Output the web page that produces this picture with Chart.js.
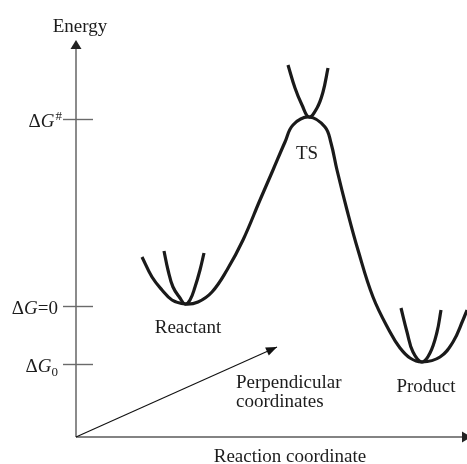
<!DOCTYPE html>
<html><head><meta charset="utf-8">
<script src="https://cdn.jsdelivr.net/npm/chart.js@4"></script>
<style>html,body{margin:0;padding:0;background:#fff}#wrap{width:467px;height:464px}</style>
</head><body><div id="wrap"><canvas id="c" width="467" height="464"></canvas></div>
<script>
// Energy profile (x: reaction coordinate, y: energy; ΔG=0 at y=0)
const mainCurve = [
  {x:66,y:49},{x:76,y:29},{x:86,y:16},{x:96,y:6},{x:109,y:2},
  {x:122,y:4},{x:136,y:14},{x:151,y:36},{x:167,y:66},{x:184,y:106},
  {x:197,y:136},{x:209,y:164},{x:217,y:181},{x:233,y:189},{x:249,y:179},
  {x:255,y:163},{x:261,y:136},{x:271,y:96},{x:282,y:56},{x:297,y:9},
  {x:314,y:-26},{x:324,y:-42},{x:334,y:-52},{x:346,y:-56},{x:364,y:-51},
  {x:377,y:-36},{x:387,y:-14},{x:391,y:-4}
];
const reactantWell = [
  {x:88,y:55},{x:92,y:36},{x:97,y:19},{x:104,y:8},{x:109,y:2},
  {x:114,y:6},{x:119,y:19},{x:124,y:36},{x:128,y:53}
];
const tsWell = [
  {x:212,y:241},{x:219,y:218},{x:226,y:201},{x:233,y:189},
  {x:241,y:198},{x:247,y:214},{x:252,y:238}
];
const productWell = [
  {x:325,y:-2},{x:331,y:-26},{x:337,y:-46},{x:346,y:-56},
  {x:354,y:-47},{x:361,y:-26},{x:365,y:-4}
];
const perpArrow = [{x:0,y:-131},{x:201,y:-41}];
const energyLevels = [187, 0, -58];
const energyLabels = [['Δ','G','#'], ['Δ','G','=0'], ['Δ','G','0']];
const yTitle = 'Energy';
const xTitle = 'Reaction coordinate';
const wellNames = ['TS','Reactant','Product'];
const perpNames = ['Perpendicular','coordinates'];

const FONT = '"Liberation Serif","Times New Roman",serif';
const INK = '#1c1c1c';

const overlay = {
  id:'overlay',
  beforeDatasetsDraw(chart){
    const ctx = chart.ctx, a = chart.chartArea;
    const xs = chart.scales.x, ys = chart.scales.y;
    const x0 = xs.getPixelForValue(0), yb = ys.getPixelForValue(-131);
    ctx.save();
    // axes
    ctx.strokeStyle = '#5a5a5a'; ctx.lineWidth = 1.4;
    ctx.beginPath(); ctx.moveTo(x0, yb); ctx.lineTo(x0, a.top + 6); ctx.stroke();
    ctx.beginPath(); ctx.moveTo(x0, yb); ctx.lineTo(a.right + 2, yb); ctx.stroke();
    ctx.fillStyle = '#222';
    ctx.beginPath(); ctx.moveTo(x0, a.top); ctx.lineTo(x0-5.5, a.top+9); ctx.lineTo(x0+5.5, a.top+9); ctx.closePath(); ctx.fill();
    ctx.beginPath(); ctx.moveTo(a.right+6, yb); ctx.lineTo(a.right-3, yb-5.5); ctx.lineTo(a.right-3, yb+5.5); ctx.closePath(); ctx.fill();
    // energy ticks
    ctx.strokeStyle = '#6a6a6a'; ctx.lineWidth = 1.4;
    energyLevels.forEach((v,i)=>{
      const py = Math.round(ys.getPixelForValue(v)) + 0.5;
      ctx.beginPath(); ctx.moveTo(x0-13, py); ctx.lineTo(x0+17, py); ctx.stroke();
      const parts = energyLabels[i];
      const big = '19px ' + FONT, ital = 'italic 19px ' + FONT;
      const smallSize = parts[2] === '=0' ? 19 : 13;
      const small = smallSize + 'px ' + FONT;
      ctx.font = big; const w0 = ctx.measureText(parts[0]).width;
      ctx.font = ital; const w1 = ctx.measureText(parts[1]).width;
      ctx.font = small; const w2 = ctx.measureText(parts[2]).width;
      const right = parts[2] === '#' ? x0 - 14 : x0 - 18;
      let x = right - w0 - w1 - w2 - (parts[2]==='#'?1:0);
      const base = py + 7;
      ctx.fillStyle = INK; ctx.textAlign = 'left'; ctx.textBaseline = 'alphabetic';
      ctx.font = big; ctx.fillText(parts[0], x, base); x += w0;
      ctx.font = ital; ctx.fillText(parts[1], x, base); x += w1 + (parts[2]==='#'?1:0);
      ctx.font = small;
      const off = parts[2]==='#' ? -7 : (parts[2]==='0' ? 4 : 0);
      ctx.fillText(parts[2], x, base + off);
    });
    ctx.restore();
  },
  afterDatasetsDraw(chart){
    const ctx = chart.ctx, a = chart.chartArea;
    const xs = chart.scales.x, ys = chart.scales.y;
    ctx.save();
    // perpendicular arrow head
    const p0 = {x:xs.getPixelForValue(perpArrow[0].x), y:ys.getPixelForValue(perpArrow[0].y)};
    const p1 = {x:xs.getPixelForValue(perpArrow[1].x), y:ys.getPixelForValue(perpArrow[1].y)};
    const ang = Math.atan2(p1.y-p0.y, p1.x-p0.x);
    ctx.fillStyle = '#111';
    ctx.beginPath();
    ctx.moveTo(p1.x, p1.y);
    ctx.lineTo(p1.x - 11*Math.cos(ang) + 4.5*Math.sin(ang), p1.y - 11*Math.sin(ang) - 4.5*Math.cos(ang));
    ctx.lineTo(p1.x - 11*Math.cos(ang) - 4.5*Math.sin(ang), p1.y - 11*Math.sin(ang) + 4.5*Math.cos(ang));
    ctx.closePath(); ctx.fill();
    // texts
    ctx.fillStyle = INK; ctx.font = '19px ' + FONT; ctx.textBaseline = 'alphabetic';
    ctx.textAlign = 'center';
    const x0 = xs.getPixelForValue(0);
    ctx.fillText(yTitle, x0 + 4, a.top - 8);
    ctx.fillText(xTitle, xs.getPixelForValue(214), a.bottom + 25);
    ctx.fillText(wellNames[0], xs.getPixelForValue(231), ys.getPixelForValue(147));
    ctx.fillText(wellNames[1], xs.getPixelForValue(112), ys.getPixelForValue(-27));
    ctx.fillText(wellNames[2], xs.getPixelForValue(350), ys.getPixelForValue(-86));
    ctx.textAlign = 'left';
    ctx.fillText(perpNames[0], xs.getPixelForValue(160), ys.getPixelForValue(-82));
    ctx.fillText(perpNames[1], xs.getPixelForValue(160), ys.getPixelForValue(-101));
    ctx.restore();
  }
};

const curveStyle = {borderColor:'#1a1a1a', borderWidth:3.2, pointRadius:0, showLine:true,
  tension:0.4, fill:false, clip:false, borderCapStyle:'butt', borderJoinStyle:'round'};

new Chart(document.getElementById('c'), {
  type:'scatter',
  data:{datasets:[
    Object.assign({data:mainCurve}, curveStyle),
    Object.assign({data:reactantWell}, curveStyle),
    Object.assign({data:tsWell}, curveStyle),
    Object.assign({data:productWell}, curveStyle),
    {data:perpArrow, borderColor:'#111', borderWidth:1.1, pointRadius:0, showLine:true, fill:false, clip:false}
  ]},
  options:{
    responsive:false, devicePixelRatio:1, animation:false,
    layout:{padding:{left:76, right:2, top:40, bottom:27}},
    plugins:{legend:{display:false}, tooltip:{enabled:false}},
    events:[],
    scales:{
      x:{type:'linear', min:0, max:389, display:false},
      y:{type:'linear', min:-131, max:266, display:false}
    }
  },
  plugins:[overlay]
});
</script></body></html>
